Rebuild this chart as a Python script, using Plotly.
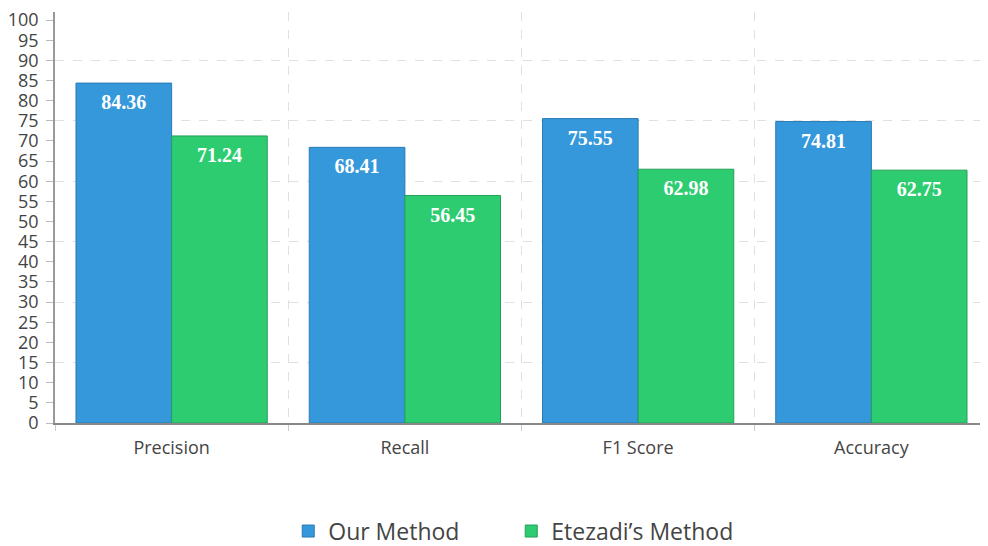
import plotly.graph_objects as go

categories = ["Precision", "Recall", "F1 Score", "Accuracy"]
our_method = [84.36, 68.41, 75.55, 74.81]
etezadi_method = [71.24, 56.45, 62.98, 62.75]
series_names = ["Our Method", "Etezadi’s Method"]

blue, blue_edge = "#3498db", "#2a7bb4"
green, green_edge = "#2ecc71", "#23a057"
label_font = dict(family="Liberation Serif", size=20, color="white", weight="bold")

fig = go.Figure()
for name, vals, col, edge, grp in [
    (series_names[0], our_method, blue, blue_edge, "a"),
    (series_names[1], etezadi_method, green, green_edge, "b"),
]:
    fig.add_trace(go.Bar(
        x=categories, y=vals, name=name, offsetgroup=grp,
        marker=dict(color=col, line=dict(color=edge, width=1)),
        hoverinfo="x+y",
    ))
    fig.add_trace(go.Scatter(
        x=categories, y=vals, mode="markers+text", offsetgroup=grp,
        marker=dict(size=16, color="rgba(0,0,0,0)"),
        text=[f"{v:.2f}" for v in vals], textposition="bottom center",
        textfont=label_font, showlegend=False, hoverinfo="skip",
    ))

# invisible trace so that the secondary (gridline) axis is drawn
fig.add_trace(go.Scatter(x=[categories[0]], y=[None], yaxis="y2", offsetgroup="a",
                         mode="lines", showlegend=False, hoverinfo="skip"))

fig.update_layout(
    width=980, height=538,
    barmode="group", bargap=0.18, bargroupgap=0,
    scattermode="group", scattergap=0.18,
    plot_bgcolor="white", paper_bgcolor="white",
    margin=dict(l=47, r=0, t=4, b=123, autoexpand=False),
    font=dict(family="Open Sans", color="#444"),
    xaxis=dict(
        type="category", tickson="boundaries", showgrid=True,
        gridcolor="#e0e0e0", griddash="dash", gridwidth=1,
        ticks="outside", ticklen=6, tickcolor="#ccc",
        showline=True, linecolor="#888", linewidth=1.5,
        tickfont=dict(size=18, color="#444"), ticklabelstandoff=8,
        automargin=False,
    ),
    yaxis=dict(
        range=[0, 102], dtick=5, tick0=0, showgrid=False, zeroline=False,
        ticks="outside", ticklen=7, tickcolor="#bbb",
        showline=True, linecolor="#999", linewidth=1.5,
        tickfont=dict(size=18, color="#444"), ticklabelstandoff=4,
        ticklabeloverflow="allow", automargin=False,
    ),
    yaxis2=dict(
        overlaying="y", range=[0, 102], dtick=15, tick0=0,
        showgrid=True, gridcolor="#e0e0e0", griddash="dash", gridwidth=1,
        showticklabels=False, ticks="", showline=False, zeroline=False,
        automargin=False,
    ),
    legend=dict(
        orientation="h", x=0.489, xanchor="center", y=-0.263, yanchor="middle",
        font=dict(size=23, color="#444"), entrywidth=178,
    ),
    showlegend=True,
)

fig.write_html("out.html")
